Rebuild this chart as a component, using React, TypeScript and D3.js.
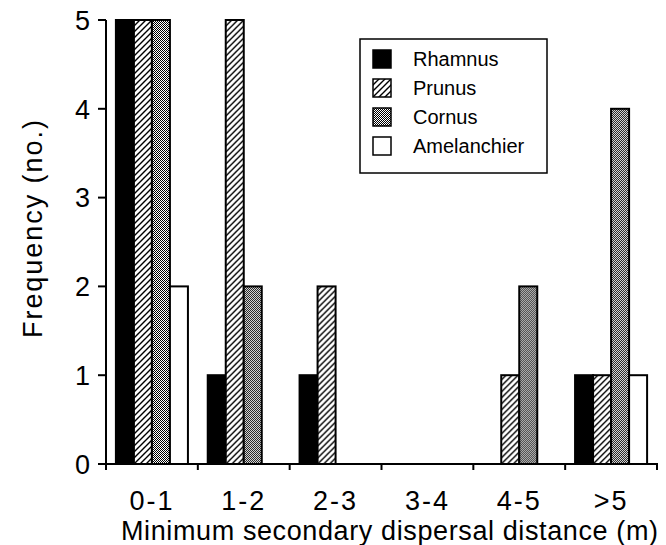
import React from 'react';
import * as d3 from 'd3';

const categories = ['0-1', '1-2', '2-3', '3-4', '4-5', '>5'];
const seriesNames = ['Rhamnus', 'Prunus', 'Cornus', 'Amelanchier'];
const rhamnus = [5, 1, 1, 0, 0, 1];
const prunus = [5, 5, 2, 0, 1, 1];
const cornus = [5, 2, 0, 0, 2, 4];
const amelanchier = [2, 0, 0, 0, 0, 1];
const yTicks = [0, 1, 2, 3, 4, 5];
const xTitle = 'Minimum secondary dispersal distance (m)';
const yTitle = 'Frequency  (no.)';

const W = 666;
const H = 545;
const FONT = '"Liberation Sans", Arial, Helvetica, sans-serif';

const fills: Record<string, string> = {
  Rhamnus: '#000',
  Prunus: 'url(#hatch)',
  Cornus: 'url(#stipple)',
  Amelanchier: '#fff',
};

export default function App() {
  const left = 106;
  const right = 657;
  const top = 20;
  const bottom = 464;

  const seriesValues: Record<string, number[]> = {
    Rhamnus: rhamnus,
    Prunus: prunus,
    Cornus: cornus,
    Amelanchier: amelanchier,
  };

  const x0 = d3.scaleBand<string>().domain(categories).range([left, right]).padding(0);
  const x1 = d3
    .scaleBand<string>()
    .domain(seriesNames)
    .range([0, x0.bandwidth()])
    .paddingInner(0)
    .paddingOuter(0.55);
  const y = d3.scaleLinear().domain([0, 5]).range([bottom, top]);

  const boundaries = categories.map((c) => x0(c) as number).concat([right]);

  const legendX = 360;
  const legendY = 39;
  const legendRow = 29;

  return (
    <svg
      width={W}
      height={H}
      style={{ position: 'absolute', left: 0, top: 0, background: '#fff' }}
      fontFamily={FONT}
    >
      <defs>
        <pattern id="hatch" patternUnits="userSpaceOnUse" width="6" height="6">
          <rect width="6" height="6" fill="#fff" />
          <path d="M0,6 L6,0 M-1,1 L1,-1 M5,7 L7,5" stroke="#000" strokeWidth="1.4" />
        </pattern>
        <pattern id="stipple" patternUnits="userSpaceOnUse" width="2" height="2">
          <rect width="2" height="2" fill="#fff" />
          <rect x="0" y="0" width="1" height="1" fill="#000" />
          <rect x="1" y="1" width="1" height="1" fill="#000" />
        </pattern>
      </defs>
      <rect width={W} height={H} fill="#fff" />

      {/* bars */}
      {categories.map((c, i) => (
        <g key={c} transform={`translate(${x0(c)},0)`}>
          {seriesNames.map((s) => {
            const v = seriesValues[s][i];
            if (v <= 0) return null;
            return (
              <rect
                key={s}
                x={x1(s)}
                y={y(v)}
                width={x1.bandwidth()}
                height={y(0) - y(v)}
                fill={fills[s]}
                stroke="#000"
                strokeWidth={2}
              />
            );
          })}
        </g>
      ))}

      {/* y axis */}
      <line x1={left} x2={left} y1={y(5)} y2={y(0)} stroke="#000" strokeWidth={2} />
      {yTicks.map((t) => (
        <g key={t}>
          <line x1={left - 8} x2={left} y1={y(t)} y2={y(t)} stroke="#000" strokeWidth={2} />
          <text
            x={left - 16}
            y={y(t)}
            dy="0.36em"
            textAnchor="end"
            fontSize={27}
            fill="#000"
          >
            {t}
          </text>
        </g>
      ))}

      {/* x axis */}
      <line x1={left - 1} x2={right + 1} y1={bottom} y2={bottom} stroke="#000" strokeWidth={2} />
      {boundaries.map((b, i) => (
        <line key={i} x1={b} x2={b} y1={bottom} y2={bottom + 6} stroke="#000" strokeWidth={2} />
      ))}
      {categories.map((c) => (
        <text
          key={c}
          x={(x0(c) as number) + x0.bandwidth() / 2}
          y={510}
          textAnchor="middle"
          fontSize={27}
          letterSpacing={2}
          fill="#000"
        >
          {c}
        </text>
      ))}

      {/* axis titles */}
      <text
        x={121}
        y={540}
        fontSize={27}
        textLength={537}
        lengthAdjust="spacing"
        fill="#000"
      >
        {xTitle}
      </text>
      <text
        transform={`translate(42,338) rotate(-90)`}
        x={0}
        y={0}
        fontSize={27}
        textLength={218}
        lengthAdjust="spacing"
        fill="#000"
      >
        {yTitle}
      </text>

      {/* legend */}
      <rect
        x={legendX}
        y={legendY}
        width={187}
        height={134}
        fill="#fff"
        stroke="#000"
        strokeWidth={1.5}
      />
      {seriesNames.map((s, i) => (
        <g key={s} transform={`translate(${legendX + 13},${legendY + 11 + i * legendRow})`}>
          <rect
            x={0}
            y={0}
            width={18}
            height={18}
            fill={fills[s]}
            stroke="#000"
            strokeWidth={1.5}
          />
          <text x={40} y={16} fontSize={20} fill="#000">
            {s}
          </text>
        </g>
      ))}
    </svg>
  );
}
